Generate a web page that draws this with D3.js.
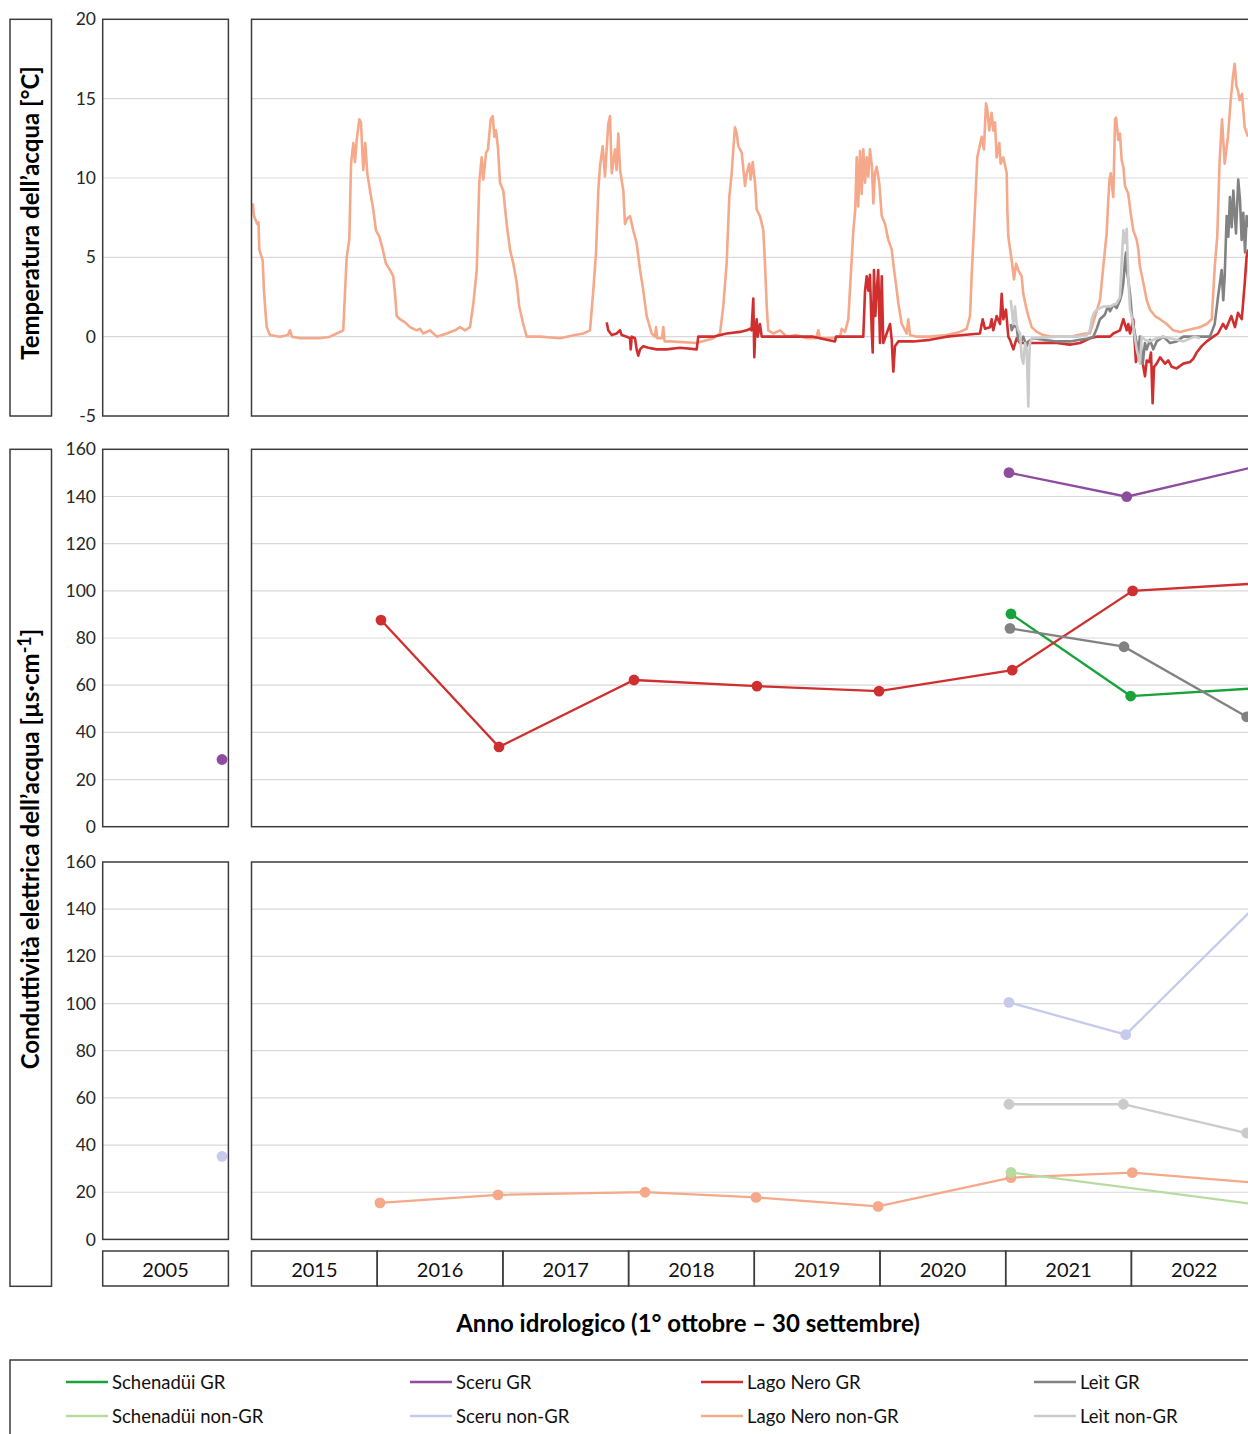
<!DOCTYPE html>
<html><head><meta charset="utf-8">
<script src="https://cdn.jsdelivr.net/npm/d3@7/dist/d3.min.js"></script>
<style>
body{margin:0;background:#fff;overflow:hidden}
svg{display:block}
text{font-family:Lato,"Open Sans","DejaVu Sans",sans-serif}
</style>
</head><body>
<svg id="c" width="1248" height="1434"></svg>
<script>
// ---------------- DATA ----------------
const yearsSmall = ["2005"];
const yearsBig = ["2015","2016","2017","2018","2019","2020","2021","2022"];
const tempTicks = [-5,0,5,10,15,20];
const condTicks = [0,20,40,60,80,100,120,140,160];

const seriesNames = ["Schenadüi GR","Schenadüi non-GR","Sceru GR","Sceru non-GR","Lago Nero GR","Lago Nero non-GR","Leìt GR","Leìt non-GR"];
const seriesColors = ["#17a23a","#b7dca2","#8e4c9f","#c6cbec","#d02f2f","#f5a88a","#828282","#cbcbcb"];

// time = hydrological year decimal (2015.0 = 1 Oct 2014)
// Water temperature [°C]
const tempLagoNeroNonGR = [[2015.010,8.4],[2015.020,7.6],[2015.046,7.1],[2015.056,7.2],[2015.062,5.5],[2015.089,4.8],[2015.099,2.9],[2015.110,1.7],[2015.121,0.6],[2015.147,0.1],[2015.227,0.0],[2015.290,0.1],[2015.306,0.4],[2015.322,0.0],[2015.386,-0.1],[2015.545,-0.1],[2015.624,0.0],[2015.678,0.2],[2015.730,0.4],[2015.757,5.0],[2015.778,6.1],[2015.792,10.9],[2015.810,12.2],[2015.823,11.0],[2015.837,12.4],[2015.858,13.7],[2015.871,13.5],[2015.889,10.5],[2015.905,12.2],[2015.921,10.3],[2015.943,9.2],[2015.969,8.0],[2015.990,6.7],[2016.017,6.3],[2016.044,5.5],[2016.070,4.6],[2016.102,4.2],[2016.128,3.8],[2016.144,2.5],[2016.155,1.3],[2016.181,1.1],[2016.221,0.9],[2016.261,0.6],[2016.314,0.4],[2016.340,0.5],[2016.367,0.2],[2016.420,0.4],[2016.473,0.0],[2016.553,0.2],[2016.619,0.4],[2016.658,0.6],[2016.698,0.4],[2016.738,0.6],[2016.765,2.1],[2016.792,4.2],[2016.812,9.7],[2016.831,11.3],[2016.844,9.9],[2016.866,11.6],[2016.881,11.8],[2016.903,13.7],[2016.919,13.9],[2016.932,12.6],[2016.945,13.0],[2016.961,11.9],[2016.977,9.7],[2017.003,9.2],[2017.030,7.1],[2017.056,5.5],[2017.083,4.6],[2017.110,3.4],[2017.130,1.9],[2017.162,0.8],[2017.189,0.0],[2017.295,0.0],[2017.454,-0.1],[2017.574,0.1],[2017.640,0.2],[2017.693,0.4],[2017.719,2.9],[2017.741,5.3],[2017.759,9.2],[2017.772,10.7],[2017.794,12.0],[2017.812,10.1],[2017.838,13.4],[2017.852,13.9],[2017.866,10.3],[2017.892,11.8],[2017.904,10.5],[2017.918,12.8],[2017.932,10.5],[2017.958,9.2],[2017.971,7.1],[2017.985,7.4],[2018.011,7.6],[2018.037,6.7],[2018.064,5.9],[2018.091,4.2],[2018.117,2.9],[2018.144,1.3],[2018.184,0.2],[2018.210,0.0],[2018.218,0.6],[2018.228,-0.1],[2018.266,-0.1],[2018.276,0.6],[2018.287,-0.3],[2018.329,-0.3],[2018.542,-0.4],[2018.674,-0.1],[2018.727,0.2],[2018.753,1.9],[2018.780,4.6],[2018.801,8.8],[2018.820,10.3],[2018.833,11.8],[2018.846,13.2],[2018.860,12.8],[2018.873,12.0],[2018.900,11.6],[2018.926,9.5],[2018.940,10.3],[2018.960,10.9],[2018.971,9.9],[2018.987,11.0],[2019.006,9.7],[2019.019,8.0],[2019.045,7.6],[2019.072,6.7],[2019.085,4.6],[2019.099,1.9],[2019.111,0.4],[2019.151,0.2],[2019.204,0.4],[2019.258,0.0],[2019.332,0.1],[2019.417,-0.1],[2019.491,-0.1],[2019.509,0.4],[2019.523,-0.1],[2019.602,-0.1],[2019.682,0.0],[2019.695,0.5],[2019.722,0.3],[2019.748,1.1],[2019.767,3.8],[2019.788,6.7],[2019.803,8.0],[2019.815,11.3],[2019.827,8.2],[2019.841,11.7],[2019.854,9.0],[2019.867,11.8],[2019.881,9.7],[2019.894,11.3],[2019.907,10.1],[2019.920,11.8],[2019.936,10.7],[2019.947,8.4],[2019.960,10.3],[2019.974,10.7],[2019.994,9.7],[2020.014,7.6],[2020.040,7.1],[2020.066,6.1],[2020.093,5.5],[2020.106,4.6],[2020.119,3.8],[2020.146,2.1],[2020.173,0.8],[2020.212,0.2],[2020.225,1.1],[2020.239,0.1],[2020.292,0.0],[2020.398,0.0],[2020.530,0.1],[2020.636,0.3],[2020.690,0.5],[2020.716,1.3],[2020.729,3.8],[2020.756,8.2],[2020.774,11.3],[2020.787,11.8],[2020.809,12.6],[2020.827,11.8],[2020.843,14.7],[2020.854,14.3],[2020.869,13.0],[2020.888,14.1],[2020.901,13.0],[2020.915,13.5],[2020.928,11.3],[2020.949,12.2],[2020.960,10.9],[2020.981,11.3],[2021.008,10.3],[2021.013,8.0],[2021.021,6.3],[2021.048,4.8],[2021.066,3.6],[2021.082,4.6],[2021.100,4.2],[2021.127,3.8],[2021.140,2.7],[2021.161,1.9],[2021.180,1.3],[2021.207,0.6],[2021.247,0.3],[2021.299,0.1],[2021.366,0.0],[2021.511,0.0],[2021.631,0.2],[2021.670,0.2],[2021.750,2.3],[2021.790,5.5],[2021.803,6.5],[2021.816,8.6],[2021.826,9.9],[2021.835,10.3],[2021.856,8.8],[2021.870,13.7],[2021.878,13.8],[2021.896,12.4],[2021.909,12.8],[2021.923,11.1],[2021.936,10.7],[2021.949,9.5],[2021.975,9.0],[2021.994,7.8],[2022.015,6.7],[2022.042,6.1],[2022.055,5.5],[2022.068,4.4],[2022.095,3.4],[2022.122,2.3],[2022.148,1.7],[2022.188,1.3],[2022.228,1.1],[2022.281,0.8],[2022.333,0.4],[2022.387,0.3],[2022.440,0.4],[2022.492,0.5],[2022.546,0.6],[2022.599,0.8],[2022.639,1.1],[2022.663,4.4],[2022.683,6.3],[2022.702,11.1],[2022.721,13.7],[2022.742,10.9],[2022.768,12.6],[2022.790,14.9],[2022.808,16.4],[2022.822,17.2],[2022.835,15.8],[2022.848,15.5],[2022.861,14.9],[2022.880,15.3],[2022.901,13.2],[2022.928,12.6]];

const tempLagoNeroGR = [[2017.826,0.9],[2017.838,0.4],[2017.866,0.1],[2017.905,0.2],[2017.932,0.4],[2017.945,0.1],[2017.985,0.0],[2018.011,-0.1],[2018.017,-0.8],[2018.025,0.0],[2018.051,-0.1],[2018.064,-0.8],[2018.077,-1.2],[2018.091,-0.8],[2018.117,-0.6],[2018.157,-0.7],[2018.224,-0.8],[2018.303,-0.8],[2018.409,-0.7],[2018.542,-0.8],[2018.554,0.0],[2018.568,0.0],[2018.674,0.0],[2018.780,0.2],[2018.886,0.3],[2018.940,0.4],[2018.966,0.5],[2018.978,0.4],[2018.992,2.4],[2019.000,-1.3],[2019.008,0.4],[2019.019,1.1],[2019.027,0.0],[2019.045,0.8],[2019.059,0.0],[2019.072,0.0],[2019.284,0.0],[2019.469,0.0],[2019.576,-0.2],[2019.642,-0.3],[2019.650,0.0],[2019.867,0.0],[2019.881,2.9],[2019.894,3.8],[2019.907,2.9],[2019.920,3.9],[2019.934,0.4],[2019.942,-1.0],[2019.952,4.2],[2019.963,1.3],[2019.974,2.9],[2019.986,4.2],[2020.000,-0.4],[2020.014,3.8],[2020.026,-0.4],[2020.053,0.2],[2020.080,0.8],[2020.093,-0.2],[2020.106,-2.2],[2020.119,-0.6],[2020.146,-0.3],[2020.265,-0.3],[2020.398,-0.2],[2020.531,0.0],[2020.663,0.1],[2020.795,0.2],[2020.817,1.1],[2020.835,0.5],[2020.875,0.6],[2020.888,1.1],[2020.901,0.4],[2020.928,1.3],[2020.955,0.8],[2020.968,2.7],[2020.981,1.1],[2021.002,1.7],[2021.021,0.0],[2021.034,-0.2],[2021.061,-0.8],[2021.087,-0.1],[2021.114,-0.4],[2021.220,-0.4],[2021.406,-0.4],[2021.511,-0.5],[2021.591,-0.4],[2021.670,-0.1],[2021.724,0.0],[2021.830,0.0],[2021.856,0.2],[2021.909,0.4],[2021.936,1.1],[2021.963,0.4],[2021.975,0.8],[2021.989,0.2],[2022.015,1.1],[2022.036,-1.6],[2022.055,-0.8],[2022.082,-1.3],[2022.108,-2.5],[2022.122,-1.5],[2022.142,-1.6],[2022.156,-1.0],[2022.169,-4.2],[2022.180,-1.9],[2022.201,-1.7],[2022.228,-1.3],[2022.268,-1.7],[2022.293,-1.5],[2022.321,-1.9],[2022.360,-2.0],[2022.413,-1.7],[2022.466,-1.6],[2022.492,-1.4],[2022.519,-1.0],[2022.559,-0.6],[2022.599,-0.3],[2022.652,0.0],[2022.689,0.2],[2022.729,0.8],[2022.753,0.5],[2022.795,1.3],[2022.824,0.6],[2022.848,1.5],[2022.878,1.1],[2022.902,3.4],[2022.916,5.0],[2022.928,5.5]];

const tempLeitGR = [[2021.040,0.8],[2021.048,0.4],[2021.066,0.7],[2021.087,0.6],[2021.100,-0.2],[2021.119,-0.4],[2021.140,0.0],[2021.167,-0.6],[2021.180,-0.3],[2021.220,-0.1],[2021.299,-0.2],[2021.406,-0.3],[2021.511,-0.3],[2021.591,-0.2],[2021.670,-0.1],[2021.697,0.0],[2021.724,0.5],[2021.750,1.1],[2021.790,1.4],[2021.803,1.7],[2021.816,1.9],[2021.830,1.6],[2021.856,2.0],[2021.883,1.8],[2021.909,2.3],[2021.923,2.7],[2021.936,3.4],[2021.949,4.8],[2021.957,5.3],[2021.963,4.2],[2021.975,3.6],[2021.989,2.7],[2022.002,1.5],[2022.015,0.7],[2022.042,-0.4],[2022.055,-1.0],[2022.068,0.0],[2022.090,-1.7],[2022.108,-0.4],[2022.122,-0.8],[2022.148,-0.2],[2022.174,-0.8],[2022.201,-0.3],[2022.254,0.0],[2022.307,-0.4],[2022.360,-0.3],[2022.413,0.0],[2022.519,0.0],[2022.625,0.0],[2022.663,0.8],[2022.689,2.5],[2022.718,4.2],[2022.731,2.3],[2022.742,3.8],[2022.758,7.6],[2022.771,6.3],[2022.784,8.8],[2022.798,6.9],[2022.811,9.2],[2022.832,6.5],[2022.850,9.9],[2022.864,8.6],[2022.877,6.1],[2022.890,7.8],[2022.904,5.3],[2022.917,7.6],[2022.928,6.9]];

const tempLeitNonGR = [[2021.040,2.3],[2021.048,1.7],[2021.061,0.8],[2021.074,1.9],[2021.087,0.8],[2021.100,0.4],[2021.114,0.2],[2021.127,-1.3],[2021.140,-1.7],[2021.154,-0.4],[2021.167,-0.8],[2021.180,-4.4],[2021.187,-1.5],[2021.193,-0.4],[2021.207,-0.1],[2021.406,0.0],[2021.565,0.0],[2021.644,0.1],[2021.670,0.4],[2021.684,1.1],[2021.702,1.5],[2021.724,1.7],[2021.777,1.9],[2021.830,1.9],[2021.883,2.1],[2021.909,2.5],[2021.923,4.8],[2021.936,6.7],[2021.949,5.9],[2021.963,6.8],[2021.975,3.8],[2021.989,1.7],[2022.002,1.3],[2022.015,0.6],[2022.042,-0.8],[2022.068,-1.7],[2022.082,0.0],[2022.108,-0.2],[2022.148,-0.3],[2022.201,-0.1],[2022.254,0.0],[2022.360,-0.2],[2022.413,-0.3],[2022.504,0.0],[2022.546,-0.1]];

// Water electrical conductivity [µS/cm] — sampling dates (hydrological year decimal)
const condSchenaduiGR    = [[2021.042,90.2],[2021.994,55.4],[2022.990,58.7]];
const condSceruGR        = [[2005.949,28.5],[2021.026,150.1],[2021.963,139.9],[2022.990,152.7]];
const condLagoNeroGR     = [[2016.030,87.6],[2016.969,33.8],[2018.043,62.2],[2019.021,59.6],[2019.992,57.5],[2021.052,66.4],[2022.010,100.0],[2022.990,103.1]];
const condLeitGR         = [[2021.034,84.1],[2021.941,76.3],[2022.917,46.6]];
const condSchenaduiNonGR = [[2021.042,28.4],[2022.990,14.8]];
const condSceruNonGR     = [[2005.949,35.2],[2021.026,100.5],[2021.955,86.8],[2022.990,141.4]];
const condLagoNeroNonGR  = [[2016.022,15.5],[2016.961,18.9],[2018.131,20.0],[2019.014,17.8],[2019.985,14.0],[2021.042,26.2],[2022.007,28.3],[2022.990,24.0]];
const condLeitNonGR      = [[2021.026,57.3],[2021.936,57.3],[2022.917,45.1]];

// ---------------- DRAW ----------------
const svg = d3.select("#c");
const W = 125.7;
const nBig = yearsBig.length + 1;
const smallL = 102.7, bigL = 251.5;
const xs = d3.scaleLinear().domain([2005, 2006]).range([smallL, smallL + W]);
const xb = d3.scaleLinear().domain([2015, 2015 + nBig]).range([bigL, bigL + nBig * W]);
const xOf = t => (t < 2010 ? xs(t) : xb(t));

const panels = [
  {id: "t", top: 19.3, bottom: 416, domain: [-5, 20], ticks: tempTicks},
  {id: "g", top: 449.3, bottom: 826.7, domain: [0, 160], ticks: condTicks},
  {id: "n", top: 862, bottom: 1239.4, domain: [0, 160], ticks: condTicks}
];
const borderCol = "#3c3c3c";
const gridCol = "#d9d9d9";

// title boxes
svg.append("rect").attr("x", 10).attr("y", 19.3).attr("width", 41.5).attr("height", 396.7)
  .attr("fill", "none").attr("stroke", borderCol).attr("stroke-width", 1.5);
svg.append("rect").attr("x", 10).attr("y", 449.3).attr("width", 41.5).attr("height", 837)
  .attr("fill", "none").attr("stroke", borderCol).attr("stroke-width", 1.5);

svg.append("text").attr("transform", "translate(39,213) rotate(-90)")
  .attr("text-anchor", "middle").attr("font-weight", "bold").attr("font-size", 24).attr("fill", "#000")
  .text("Temperatura dell’acqua [°C]");
const ct = svg.append("text").attr("transform", "translate(39,849) rotate(-90)")
  .attr("text-anchor", "middle").attr("font-weight", "bold").attr("font-size", 24).attr("fill", "#000");
ct.append("tspan").text("Conduttività elettrica dell’acqua [µs·cm");
ct.append("tspan").attr("dy", -8).attr("font-size", 18).text("-1");
ct.append("tspan").attr("dy", 8).text("]");

panels.forEach(p => {
  p.y = d3.scaleLinear().domain(p.domain).range([p.bottom, p.top]);
  const g = svg.append("g");
  [[smallL, smallL + W], [bigL, bigL + nBig * W]].forEach(([a, b]) => {
    g.append("g").selectAll("line").data(p.ticks.slice(1, -1)).join("line")
      .attr("x1", a).attr("x2", b).attr("y1", d => p.y(d)).attr("y2", d => p.y(d))
      .attr("stroke", gridCol).attr("stroke-width", 1.2);
  });
  const ax = g.append("g").attr("transform", "translate(101,0)")
    .call(d3.axisLeft(p.y).tickValues(p.ticks).tickFormat(d => String(d)).tickSize(0).tickPadding(5));
  ax.select(".domain").remove();
  ax.selectAll("text").attr("font-size", 17.5).attr("fill", "#262626")
    .style("font-family", "Lato,'Open Sans',sans-serif");
});

panels.forEach(p => {
  svg.append("clipPath").attr("id", "clip-" + p.id).append("rect")
    .attr("x", bigL).attr("y", p.top).attr("width", nBig * W).attr("height", p.bottom - p.top);
});

// temperature lines
const pt = panels[0];
const tLine = d3.line().x(d => xb(d[0])).y(d => pt.y(d[1]));
const tempSeries = [
  [tempLagoNeroNonGR, seriesColors[5]],
  [tempLagoNeroGR, seriesColors[4]],
  [tempLeitGR, seriesColors[6]],
  [tempLeitNonGR, seriesColors[7]]
];
const tg = svg.append("g").attr("clip-path", "url(#clip-t)");
tempSeries.forEach(([data, col]) => {
  tg.append("path").datum(data).attr("d", tLine).attr("fill", "none")
    .attr("stroke", col).attr("stroke-width", 2.6).attr("stroke-linejoin", "round");
});

// conductivity
function drawCond(p, list) {
  const line = d3.line().x(d => xOf(d[0])).y(d => p.y(d[1]));
  const gl = svg.append("g");
  list.forEach(([data, col]) => {
    const small = data.filter(d => d[0] < 2010), big = data.filter(d => d[0] >= 2010);
    [small, big].forEach(seg => {
      if (seg.length > 1) gl.append("path").datum(seg).attr("d", line).attr("fill", "none")
        .attr("stroke", col).attr("stroke-width", 2.3);
    });
    gl.selectAll(null).data(data).join("circle")
      .attr("cx", d => xOf(d[0])).attr("cy", d => p.y(d[1])).attr("r", 5.4).attr("fill", col);
  });
}
drawCond(panels[1], [
  [condSchenaduiGR, seriesColors[0]],
  [condSceruGR, seriesColors[2]],
  [condLagoNeroGR, seriesColors[4]],
  [condLeitGR, seriesColors[6]]
]);
drawCond(panels[2], [
  [condSceruNonGR, seriesColors[3]],
  [condLagoNeroNonGR, seriesColors[5]],
  [condSchenaduiNonGR, seriesColors[1]],
  [condLeitNonGR, seriesColors[7]]
]);

// panel borders
panels.forEach(p => {
  [[smallL, W], [bigL, nBig * W]].forEach(([x, w]) => {
    svg.append("rect").attr("x", x).attr("y", p.top).attr("width", w).attr("height", p.bottom - p.top)
      .attr("fill", "none").attr("stroke", borderCol).attr("stroke-width", 1.5);
  });
});

// year category boxes
const bandS = d3.scaleBand().domain(yearsSmall).range([smallL, smallL + W]);
const bandB = d3.scaleBand().domain(yearsBig).range([bigL, bigL + yearsBig.length * W]);
[[bandS, yearsSmall], [bandB, yearsBig]].forEach(([band, yrs]) => {
  const gy = svg.append("g");
  gy.selectAll("rect").data(yrs).join("rect")
    .attr("x", d => band(d)).attr("y", 1251).attr("width", band.bandwidth()).attr("height", 35)
    .attr("fill", "none").attr("stroke", borderCol).attr("stroke-width", 1.5);
  gy.selectAll("text").data(yrs).join("text")
    .attr("x", d => band(d) + band.bandwidth() / 2).attr("y", 1269)
    .attr("text-anchor", "middle").attr("dominant-baseline", "central")
    .attr("font-size", 20).attr("fill", "#111").text(d => d);
});

// x axis title
svg.append("text").attr("x", 688).attr("y", 1332).attr("text-anchor", "middle")
  .attr("font-weight", "bold").attr("font-size", 24).attr("fill", "#000")
  .text("Anno idrologico (1° ottobre – 30 settembre)");

// legend
svg.append("rect").attr("x", 10).attr("y", 1360).attr("width", 1400).attr("height", 200)
  .attr("fill", "none").attr("stroke", borderCol).attr("stroke-width", 1.5);
const legCols = [66, 410, 701, 1034];
const legRows = [1382, 1416];
const lg = svg.append("g");
seriesNames.forEach((name, i) => {
  const cx = legCols[Math.floor(i / 2)], cy = legRows[i % 2];
  lg.append("line").attr("x1", cx).attr("x2", cx + 42).attr("y1", cy).attr("y2", cy)
    .attr("stroke", seriesColors[i]).attr("stroke-width", 2.5);
  lg.append("text").attr("x", cx + 46).attr("y", cy).attr("dominant-baseline", "central")
    .attr("font-size", 18.5).attr("fill", "#111").text(name);
});
</script>
</body></html>
